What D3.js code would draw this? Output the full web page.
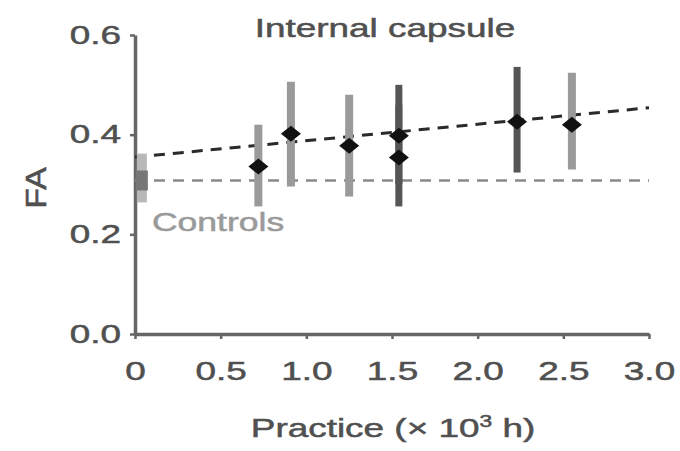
<!DOCTYPE html>
<html>
<head>
<meta charset="utf-8">
<script src="https://cdn.jsdelivr.net/npm/d3@7"></script>
<style>
  html, body { margin: 0; padding: 0; background: #fff; }
  svg { display: block; }
  text { font-family: "Liberation Sans", Arial, Helvetica, sans-serif; }
</style>
</head>
<body>
<svg id="chart" width="680" height="451"></svg>
<script>
// Fractional anisotropy vs. accumulated practice, internal capsule
const practice = [0.72, 0.91, 1.25, 1.54, 1.54, 2.23, 2.55];
const faMean   = [0.336, 0.402, 0.378, 0.398, 0.354, 0.426, 0.420];
const faLow    = [0.256, 0.296, 0.276, 0.300, 0.256, 0.324, 0.330];
const faHigh   = [0.420, 0.506, 0.480, 0.500, 0.460, 0.536, 0.524];
const group    = ["a", "a", "a", "b", "b", "b", "a"];

// control group (non-musicians)
const controlPractice = [0.04];
const controlMean = [0.308];
const controlLow  = [0.264];
const controlHigh = [0.362];

// regression of FA on practice
const fitIntercept = 0.355;
const fitSlope = 0.033;

const xTicks = [0, 0.5, 1.0, 1.5, 2.0, 2.5, 3.0];
const xTickLabels = ["0", "0.5", "1.0", "1.5", "2.0", "2.5", "3.0"];
const yTicks = [0, 0.2, 0.4, 0.6];
const yTickLabels = ["0.0", "0.2", "0.4", "0.6"];

const svg = d3.select("#chart");
const margin = { left: 135, right: 31, top: 35, bottom: 117 };
const W = 680, H = 451;
const stretch = 1.42;      // wide letterforms
const axisGrey = "#666";
const textGrey = "#505050";

const x = d3.scaleLinear().domain([0, 3]).range([margin.left, W - margin.right]);
const y = d3.scaleLinear().domain([0, 0.6]).range([H - margin.bottom, margin.top]);

const points = practice.map((p, i) => ({
  x: p, m: faMean[i], lo: faLow[i], hi: faHigh[i], g: group[i]
}));
const shade = d3.scaleOrdinal().domain(["a", "b"]).range(["#9a9a9a", "#555555"]);

// wide text helper
function wideText(parent, tx, ty, str, size, fill, anchor) {
  return parent.append("text")
    .attr("transform", `translate(${tx},${ty}) scale(${stretch},1)`)
    .attr("text-anchor", anchor || "middle")
    .attr("font-size", size)
    .attr("fill", fill)
    .attr("stroke", fill).attr("stroke-width", 0.5)
    .text(str);
}

// axes
const gx = svg.append("g").attr("transform", `translate(0,${y(0)})`)
  .call(d3.axisBottom(x).tickValues(xTicks)
    .tickFormat((d, i) => xTickLabels[i]).tickSize(5).tickSizeOuter(0).tickPadding(23));
const gy = svg.append("g").attr("transform", `translate(${x(0)},0)`)
  .call(d3.axisLeft(y).tickValues(yTicks)
    .tickFormat((d, i) => yTickLabels[i]).tickSize(5).tickSizeOuter(0).tickPadding(9));

[gx, gy].forEach(g => {
  g.select(".domain").attr("stroke", axisGrey).attr("stroke-width", 3.5);
  g.selectAll(".tick line").attr("stroke", axisGrey).attr("stroke-width", 2.5);
  g.selectAll(".tick text")
    .attr("font-size", 26)
    .attr("fill", textGrey)
    .attr("stroke", textGrey).attr("stroke-width", 0.5)
    .attr("font-family", "Liberation Sans, Arial, sans-serif");
});
gx.selectAll(".tick text").attr("transform", `scale(${stretch},1)`);
gy.selectAll(".tick text")
  .attr("x", -14 / stretch)
  .attr("transform", `scale(${stretch},1)`);

// control reference line
svg.append("line")
  .attr("x1", x(0)).attr("x2", x(3))
  .attr("y1", y(controlMean[0])).attr("y2", y(controlMean[0]))
  .attr("stroke", "#8a8a8a").attr("stroke-width", 2.5)
  .attr("stroke-dasharray", "11,8");

// regression line
svg.append("line")
  .attr("x1", x(0)).attr("x2", x(3))
  .attr("y1", y(fitIntercept)).attr("y2", y(fitIntercept + fitSlope * 3))
  .attr("stroke", "#2a2a2a").attr("stroke-width", 3)
  .attr("stroke-dasharray", "11,8");

// control marker
controlPractice.forEach((p, i) => {
  svg.append("line")
    .attr("x1", x(p)).attr("x2", x(p))
    .attr("y1", y(controlLow[i])).attr("y2", y(controlHigh[i]))
    .attr("stroke", "#b8b8b8").attr("stroke-width", 10);
  svg.append("rect")
    .attr("x", x(p) - 6).attr("y", y(controlMean[i]) - 10)
    .attr("width", 12).attr("height", 20)
    .attr("fill", "#777");
});

// error bars
svg.append("g").selectAll("line").data(points).join("line")
  .attr("x1", d => x(d.x)).attr("x2", d => x(d.x))
  .attr("y1", d => y(d.lo)).attr("y2", d => y(d.hi))
  .attr("stroke", d => shade(d.g))
  .attr("stroke-width", d => d.g === "b" ? 7 : 8);

// diamond markers
const dw = 10, dh = 8;
svg.append("g").selectAll("path").data(points).join("path")
  .attr("d", d => {
    const cx = x(d.x), cy = y(d.m);
    return `M${cx - dw},${cy}L${cx},${cy - dh}L${cx + dw},${cy}L${cx},${cy + dh}Z`;
  })
  .attr("fill", "#111");

// title and labels
wideText(svg, 385, 37, "Internal capsule", 26, textGrey);
wideText(svg, 152, 231, "Controls", 25, "#9a9a9a", "start");

svg.append("text")
  .attr("transform", `translate(46,188) rotate(-90) scale(1.3,1.1)`)
  .attr("text-anchor", "middle")
  .attr("font-size", 26)
  .attr("fill", textGrey)
  .attr("stroke", textGrey).attr("stroke-width", 0.5)
  .text("FA");

const xl = svg.append("text")
  .attr("transform", `translate(393,437) scale(${stretch},1)`)
  .attr("text-anchor", "middle")
  .attr("font-size", 26)
  .attr("fill", textGrey)
  .attr("stroke", textGrey).attr("stroke-width", 0.5);
xl.append("tspan").text("Practice (\u00d7 10");
xl.append("tspan").attr("font-size", 16).attr("dy", -10).text("3");
xl.append("tspan").attr("dy", 10).text(" h)");
</script>
</body>
</html>
